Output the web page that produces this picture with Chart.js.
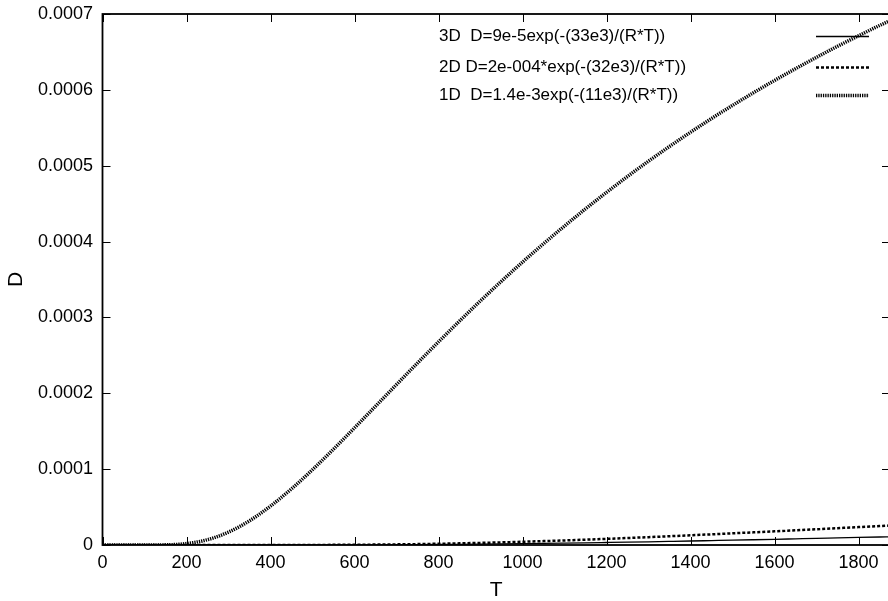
<!DOCTYPE html>
<html>
<head>
<meta charset="utf-8">
<script src="https://cdn.jsdelivr.net/npm/chart.js@4.4.1/dist/chart.umd.min.js"></script>
<style>
	html, body { margin: 0; padding: 0; background: #fff; overflow: hidden; }
	canvas { display: block; }
</style>
</head>
<body>
<!-- plot box runs a little past the right edge of the window -->
<canvas id="chart-d" width="890" height="601"></canvas>
<script>
// temperature samples and diffusivity of each model
const temps = [0, 50, 100, 150, 200, 250, 300, 350, 400, 450, 500, 550, 600, 650, 700, 750, 800, 850, 900, 950,
	1000, 1050, 1100, 1150, 1200, 1250, 1300, 1350, 1400, 1450, 1500, 1550, 1600, 1650, 1700, 1750, 1800, 1850, 1875];

const d3D = [0, 0, 0, 0, 0, 0, 0, 0, 0, 0.000000013, 0.000000032, 0.000000066, 0.00000012, 0.0000002, 0.00000031,
	0.00000045, 0.00000063, 0.00000084, 0.00000109, 0.00000138, 0.0000017, 0.00000205, 0.00000244, 0.00000285,
	0.0000033, 0.00000376, 0.00000425, 0.00000476, 0.00000528, 0.00000583, 0.00000638, 0.00000695, 0.00000753,
	0.00000812, 0.00000871, 0.00000932, 0.00000992, 0.00001053, 0.00001084];

const d2D = [0, 0, 0, 0, 0, 0, 0, 0, 0.000000013, 0.000000039, 0.000000091, 0.000000183, 0.000000327, 0.000000536,
	0.00000082, 0.00000118, 0.00000163, 0.00000216, 0.00000278, 0.00000348, 0.00000426, 0.00000512, 0.00000605,
	0.00000704, 0.00000809, 0.0000092, 0.00001036, 0.00001156, 0.0000128, 0.00001406, 0.00001537, 0.0000167,
	0.00001804, 0.00001941, 0.00002079, 0.00002218, 0.00002357, 0.00002497, 0.00002568];

const d1D = [0, 0, 0, 0.0000002, 0.0000019, 0.000007, 0.000017, 0.0000319, 0.0000513, 0.000074, 0.0000993,
	0.0001263, 0.0001544, 0.0001829, 0.0002115, 0.0002399, 0.0002678, 0.0002952, 0.0003219, 0.0003478, 0.0003729,
	0.0003971, 0.0004205, 0.0004431, 0.0004648, 0.0004858, 0.000506, 0.0005254, 0.0005441, 0.0005622, 0.0005795,
	0.0005962, 0.0006124, 0.0006279, 0.0006429, 0.0006574, 0.0006713, 0.0006848, 0.0006913];

const seriesLabels = [
	"3D  D=9e-5exp(-(33e3)/(R*T))",
	"2D D=2e-004*exp(-(32e3)/(R*T))",
	"1D  D=1.4e-3exp(-(11e3)/(R*T))",
];

const xTicks = [0, 200, 400, 600, 800, 1000, 1200, 1400, 1600, 1800];
const yTicks = [0, 0.0001, 0.0002, 0.0003, 0.0004, 0.0005, 0.0006, 0.0007];
const yTickLabels = ["0", "0.0001", "0.0002", "0.0003", "0.0004", "0.0005", "0.0006", "0.0007"];

const fontFamily = "'Liberation Sans', Arial, Helvetica, sans-serif";

function toPoints(values) {
	return temps.map((t, i) => ({ x: t, y: values[i] }));
}

// frame, inward ticks on all four sides and the key in the top right
const framePlugin = {
	id: "frame",
	afterDatasetsDraw(chart) {
		const { ctx, chartArea: a, scales } = chart;
		const len = 8;
		ctx.save();
		ctx.strokeStyle = "#000";
		ctx.lineWidth = 1;
		ctx.beginPath();
		xTicks.forEach((v) => {
			const px = Math.round(scales.x.getPixelForValue(v)) + 0.5;
			ctx.moveTo(px, a.bottom);
			ctx.lineTo(px, a.bottom - len);
			ctx.moveTo(px, a.top);
			ctx.lineTo(px, a.top + len);
		});
		yTicks.forEach((v) => {
			const py = Math.round(scales.y.getPixelForValue(v)) + 0.5;
			ctx.moveTo(a.left, py);
			ctx.lineTo(a.left + len, py);
			ctx.moveTo(a.right, py);
			ctx.lineTo(a.right - len, py);
		});
		ctx.stroke();

		ctx.lineWidth = 1.8;
		ctx.strokeRect(a.left, a.top, a.right - a.left, a.bottom - a.top);

		// key
		const rows = [36, 67, 95];
		ctx.font = "17px " + fontFamily;
		ctx.fillStyle = "#000";
		ctx.textAlign = "left";
		ctx.textBaseline = "middle";
		chart.data.datasets.forEach((ds, i) => {
			ctx.fillText(ds.label, 439, rows[i]);
			ctx.beginPath();
			ctx.lineWidth = ds.borderWidth;
			ctx.setLineDash(ds.borderDash || []);
			ctx.moveTo(816, rows[i] + 0.5);
			ctx.lineTo(869, rows[i] + 0.5);
			ctx.stroke();
		});
		ctx.restore();
	},
};

const ctxD = document.getElementById("chart-d").getContext("2d");

var chartD = new Chart(ctxD, {
	type: "line",
	data: {
		datasets: [
			{
				label: seriesLabels[0],
				data: toPoints(d3D),
				borderColor: "#000",
				borderWidth: 1.3,
			},
			{
				label: seriesLabels[1],
				data: toPoints(d2D),
				borderColor: "#000",
				borderWidth: 2.5,
				borderDash: [3, 2],
			},
			{
				label: seriesLabels[2],
				data: toPoints(d1D),
				borderColor: "#000",
				borderWidth: 3.5,
				borderDash: [1.3, 1],
			},
		],
	},
	options: {
		responsive: false,
		animation: false,
		layout: { padding: { top: 14, right: 0, left: 0, bottom: 0 } },
		elements: {
			point: { radius: 0 },
			line: { cubicInterpolationMode: "monotone", fill: false },
		},
		plugins: {
			legend: { display: false },
			tooltip: { enabled: false },
		},
		scales: {
			x: {
				type: "linear",
				min: 0,
				max: 1875,
				afterBuildTicks: (scale) => {
					scale.ticks = xTicks.map((v) => ({ value: v }));
				},
				afterFit: (scale) => {
					scale.height = 56;
					scale.paddingLeft = 0;
					scale.paddingRight = 0;
				},
				grid: { display: false, drawTicks: false },
				border: { display: false },
				ticks: {
					color: "#000",
					padding: 7,
					maxRotation: 0,
					autoSkip: false,
					font: { family: fontFamily, size: 18 },
					callback: (value) => String(value),
				},
				title: {
					display: true,
					text: "T",
					color: "#000",
					padding: { top: 0, bottom: 0 },
					font: { family: fontFamily, size: 21, lineHeight: 1 },
				},
			},
			y: {
				min: 0,
				max: 0.0007,
				afterBuildTicks: (scale) => {
					scale.ticks = yTicks.map((v) => ({ value: v }));
				},
				afterFit: (scale) => {
					scale.width = 102.5;
					scale.paddingTop = 0;
					scale.paddingBottom = 0;
				},
				grid: { display: false, drawTicks: false },
				border: { display: false },
				ticks: {
					color: "#000",
					padding: 9.5,
					autoSkip: false,
					font: { family: fontFamily, size: 18 },
					callback: (value, index) => yTickLabels[index],
				},
				title: {
					display: true,
					text: "D",
					color: "#000",
					padding: { top: 6, bottom: 0 },
					font: { family: fontFamily, size: 21, lineHeight: 1 },
				},
			},
		},
	},
	plugins: [framePlugin],
});
</script>
</body>
</html>
